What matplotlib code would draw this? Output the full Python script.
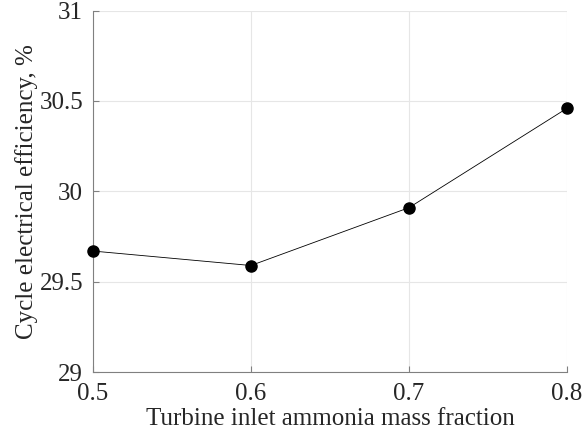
import matplotlib
matplotlib.use('Agg')
import matplotlib.pyplot as plt

# data
mass_fraction = [0.5, 0.6, 0.7, 0.8]
efficiency = [29.67, 29.59, 29.91, 30.46]
x_ticks = [0.5, 0.6, 0.7, 0.8]
y_ticks = [29, 29.5, 30, 30.5, 31]
y_tick_labels = ['29', '29.5', '30', '30.5', '31']

plt.rcParams['font.family'] = 'Liberation Serif'
plt.rcParams['font.size'] = 18

fig = plt.figure(figsize=(5.84, 4.42), dpi=100)
ax = fig.add_axes([0.159, 0.158, 0.812, 0.818])

ax.plot(mass_fraction, efficiency, '-', color='black', linewidth=0.6,
        marker='o', markersize=8, markerfacecolor='black', zorder=3,
        clip_on=False)

ax.set_xlim(0.5, 0.8)
ax.set_ylim(29, 31)
ax.set_xticks(x_ticks)
ax.set_xticklabels([str(v) for v in x_ticks])
ax.set_yticks(y_ticks)
ax.set_yticklabels(y_tick_labels)

ax.grid(True, color='#e6e6e6', linewidth=0.8)
ax.set_axisbelow(True)
for s in ['top', 'right']:
    ax.spines[s].set_visible(False)
for s in ['left', 'bottom']:
    ax.spines[s].set_color('#808080')
    ax.spines[s].set_linewidth(0.8)
ax.tick_params(direction='in', length=4, color='#808080', labelcolor='#262626')
ax.tick_params(axis='y', pad=7)
ax.tick_params(axis='x', pad=8)

ax.set_xlabel('Turbine inlet ammonia mass fraction', color='#262626', labelpad=2)
ax.set_ylabel('Cycle electrical efficiency, %', color='#262626', labelpad=1)

fig.savefig('out.png', dpi=100)
